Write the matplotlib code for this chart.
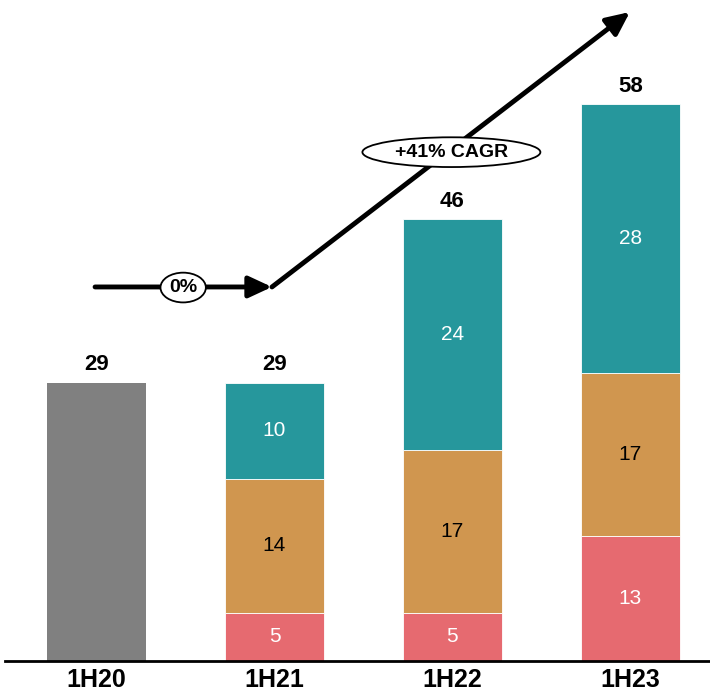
import matplotlib
matplotlib.use("Agg")
import matplotlib.pyplot as plt
from matplotlib.patches import Ellipse

plt.rcParams['font.family'] = ['Liberation Sans', 'DejaVu Sans']

categories = ["1H20", "1H21", "1H22", "1H23"]
totals = [29, 29, 46, 58]
base_total = [29, 0, 0, 0]          # single grey bar for the base year
seg_bottom = [0, 5, 5, 13]          # red segment
seg_middle = [0, 14, 17, 17]        # orange segment
seg_top = [0, 10, 24, 28]           # teal segment
flat_label = "0%"
growth_label = "+41% CAGR"

GREY = "#808080"
RED = "#E66A70"
ORANGE = "#D0964F"
TEAL = "#26979C"

fig = plt.figure(figsize=(7.10, 6.96), dpi=100)
ax = fig.add_axes([5 / 710, 35 / 696, 705 / 710, 661 / 696])
ax.set_xlim(-0.514, 3.447)
ax.set_ylim(0, 68.85)

x = list(range(len(categories)))
w = 0.556

ax.bar(x, base_total, width=w, color=GREY)
ax.bar(x, seg_bottom, width=w, color=RED, edgecolor="white", linewidth=0.6)
b2 = [a for a in seg_bottom]
ax.bar(x, seg_middle, width=w, bottom=b2, color=ORANGE, edgecolor="white", linewidth=0.6)
b3 = [a + b for a, b in zip(seg_bottom, seg_middle)]
ax.bar(x, seg_top, width=w, bottom=b3, color=TEAL, edgecolor="white", linewidth=0.6)

# segment labels
for i in x:
    if seg_bottom[i]:
        ax.text(i, seg_bottom[i] / 2, str(seg_bottom[i]), ha="center", va="center",
                color="white", fontsize=15)
    if seg_middle[i]:
        ax.text(i, b2[i] + seg_middle[i] / 2, str(seg_middle[i]), ha="center", va="center",
                color="black", fontsize=15)
    if seg_top[i]:
        ax.text(i, b3[i] + seg_top[i] / 2, str(seg_top[i]), ha="center", va="center",
                color="white", fontsize=15)
    ax.text(i, totals[i] + 0.75, str(totals[i]), ha="center", va="bottom",
            fontsize=16, fontweight="bold")

# baseline
ax.axhline(0, color="black", linewidth=2, xmin=0, xmax=1, clip_on=False)
for s in ax.spines.values():
    s.set_visible(False)
ax.set_xticks(x)
ax.set_xticklabels(categories, fontsize=18, fontweight="bold")
ax.tick_params(axis="x", length=0, pad=5)
ax.set_yticks([])

# trend arrows
arrow_kw = dict(arrowstyle="-|>,head_length=1.4,head_width=0.65", color="black",
                lw=3.5, shrinkA=0, shrinkB=0)
ax.annotate("", xy=(0.986, 38.96), xytext=(-0.008, 38.96), arrowprops=arrow_kw)
ax.annotate("", xy=(2.997, 67.6), xytext=(0.986, 38.96), arrowprops=arrow_kw)

# callouts
ax.add_patch(Ellipse((0.487, 38.9), 0.255, 3.1, facecolor="white", edgecolor="black",
                     linewidth=1.3, zorder=5))
ax.text(0.487, 38.9, flat_label, ha="center", va="center", fontsize=14,
        fontweight="bold", zorder=6)
ax.add_patch(Ellipse((1.994, 53.0), 1.0, 3.1, facecolor="white", edgecolor="black",
                     linewidth=1.3, zorder=5))
ax.text(1.994, 53.0, growth_label, ha="center", va="center", fontsize=14,
        fontweight="bold", zorder=6)

fig.savefig("out.png", dpi=100)
